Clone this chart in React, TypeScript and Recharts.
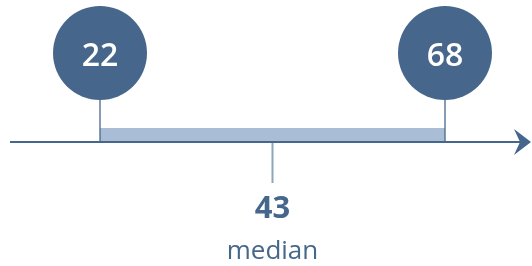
import React from 'react';
import { ComposedChart, XAxis, YAxis, Line, ReferenceArea, ReferenceLine, ReferenceDot } from 'recharts';

const categories = ['min', 'median', 'max'];
const values = [22, 43, 68];
const medianLabel = 'median';

const data = categories.map((c, i) => ({ key: c, value: values[i] }));

const DARK = '#46678b';
const LIGHT = '#a9bdd6';
const MEDLINE = '#8fa5bf';
const FONT = '"Open Sans", "Noto Sans", sans-serif';

const AxisArrow = (props: any) => {
  const { x1, y1, x2 } = props;
  const sx = Math.min(x1, x2) + 10;
  const tip = Math.max(x1, x2) - 1;
  const y = y1;
  return (
    <g>
      <line x1={sx} y1={y} x2={tip - 10} y2={y} stroke={DARK} strokeWidth={2} />
      <path d={`M ${tip} ${y} L ${tip - 17} ${y - 13} L ${tip - 11} ${y} L ${tip - 17} ${y + 13} Z`} fill={DARK} />
    </g>
  );
};

const makeCircle = (v: number) => (props: any) => {
  const { cx, cy } = props;
  return (
    <g>
      <circle cx={cx} cy={cy} r={47} fill={DARK} />
      <text x={cx} y={cy + 13} textAnchor="middle" fill="#ffffff" fontFamily={FONT} fontSize={32} fontWeight={600}>
        {v}
      </text>
    </g>
  );
};

const MedianText = (props: any) => {
  const { cx, cy } = props;
  return (
    <g>
      <text x={cx} y={cy} textAnchor="middle" fill={DARK} fontFamily={FONT} fontSize={31} fontWeight={700}>
        {values[1]}
      </text>
      <text x={cx} y={cy + 41} textAnchor="middle" fill={DARK} fontFamily={FONT} fontSize={26}>
        {medianLabel}
      </text>
    </g>
  );
};

export default function App() {
  return (
    <div style={{ position: 'fixed', left: 0, top: 0, width: 532, height: 266 }}>
      <ComposedChart width={532} height={266} data={data} margin={{ top: 0, right: 0, bottom: 0, left: 0 }}>
        <XAxis dataKey="key" type="category" scale="point" padding={{ left: 100, right: 87 }} hide />
        <YAxis type="number" domain={[0, 266]} reversed allowDataOverflow hide />
        <Line dataKey="value" stroke="none" strokeOpacity={0} dot={false} activeDot={false} isAnimationActive={false} />
        <ReferenceArea x1={categories[0]} x2={categories[2]} y1={128} y2={141} fill={LIGHT} fillOpacity={1} stroke="none" />
        <ReferenceLine y={142} shape={AxisArrow} />
        <ReferenceLine segment={[{ x: categories[0], y: 100 }, { x: categories[0], y: 142 }]} stroke={DARK} strokeWidth={1.3} />
        <ReferenceLine segment={[{ x: categories[2], y: 100 }, { x: categories[2], y: 142 }]} stroke={DARK} strokeWidth={1.3} />
        <ReferenceLine segment={[{ x: categories[1], y: 143 }, { x: categories[1], y: 183 }]} stroke={MEDLINE} strokeWidth={2} />
        <ReferenceDot x={categories[0]} y={53} r={47} shape={makeCircle(values[0])} />
        <ReferenceDot x={categories[2]} y={53} r={47} shape={makeCircle(values[2])} />
        <ReferenceDot x={categories[1]} y={218} r={0} shape={MedianText} />
      </ComposedChart>
    </div>
  );
}
